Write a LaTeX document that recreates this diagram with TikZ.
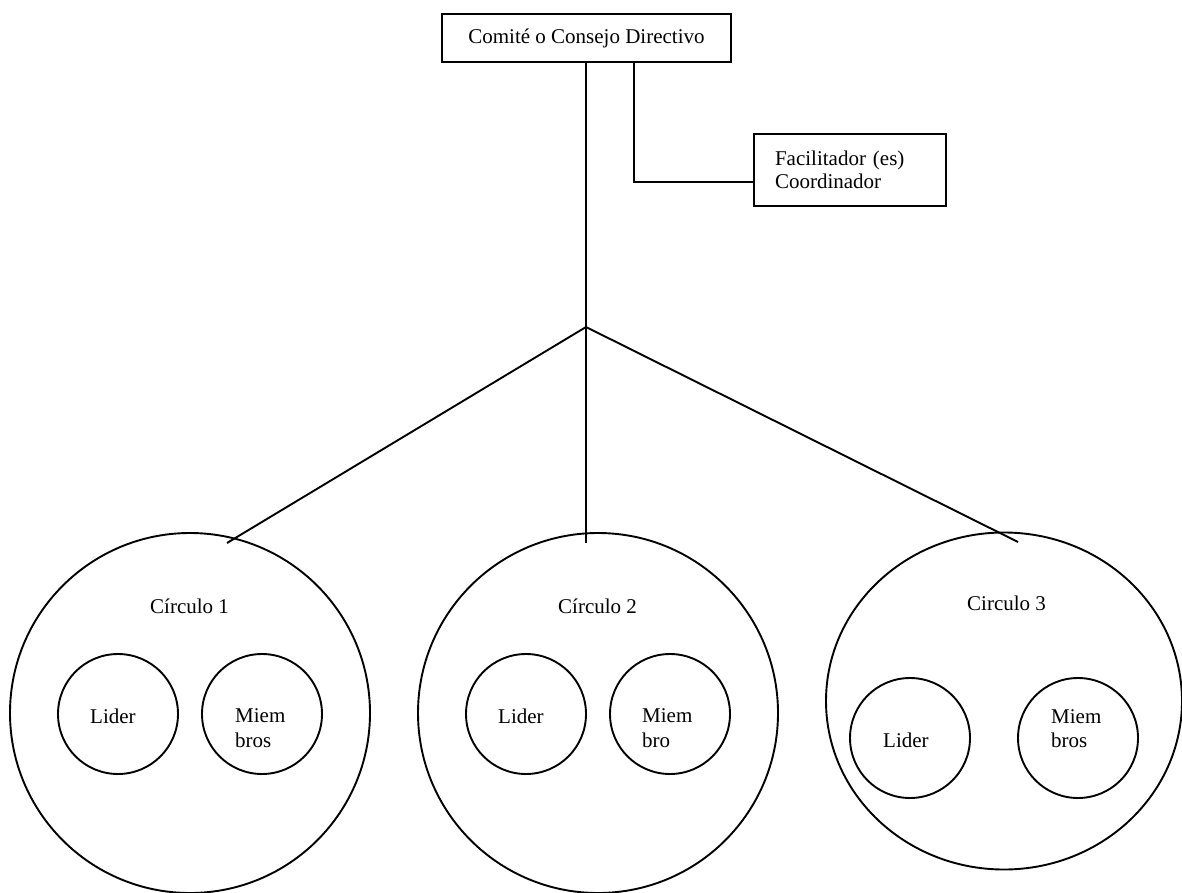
\documentclass[tikz,border=0pt]{standalone}
\usepackage{fontspec}
\setmainfont{Liberation Serif}
\usetikzlibrary{shapes.geometric}
\begin{document}
\begin{tikzpicture}[x=1pt,y=-1pt,
  ln/.style={line width=1.9pt},
  boxnode/.style={draw, line width=1.9pt, inner sep=0pt, font=\fontsize{21}{23}\selectfont},
  ring/.style={draw, circle, line width=1.9pt, inner sep=0pt},
  txt/.style={inner sep=0pt, anchor=base west, font=\fontsize{21}{25}\selectfont}]
\useasboundingbox (0,0) rectangle (1182,893);

% boxes
\node[boxnode, minimum width=289pt, minimum height=48pt] (top) at (586.5,38) {Comit\'e o Consejo Directivo};
\node[boxnode, minimum width=192pt, minimum height=72pt, inner xsep=21pt, text width=150pt, align=left] (fac) at (850,170) {Facilitador (es)\\Coordinador};

% junction and ends
\coordinate (junc) at (586,327);
\coordinate (elbow) at (634,182);
\coordinate (e1) at (227,543);
\coordinate (e2) at (586,543);
\coordinate (e3) at (1018,542);

% big circles
\node[ring, minimum size=360pt] (c1) at (190,713) {};
\node[ring, minimum size=360pt] (c2) at (598,713) {};
\node[draw, ellipse, line width=1.9pt, inner sep=0pt, minimum width=356pt, minimum height=337pt] (c3) at (1004,701) {};

% small circles
\node[ring, minimum size=120pt] (l1) at (118,714) {};
\node[ring, minimum size=120pt] (m1) at (262,714) {};
\node[ring, minimum size=120pt] (l2) at (526,714) {};
\node[ring, minimum size=120pt] (m2) at (670,714) {};
\node[ring, minimum size=120pt] (l3) at (910,738) {};
\node[ring, minimum size=120pt] (m3) at (1078,738) {};

% connectors
\draw[ln] (top.south -| junc) -- (junc) -- (e2);
\draw[ln] (junc) -- (e1);
\draw[ln] (junc) -- (e3);
\draw[ln] (top.south -| elbow) -- (elbow) -- (fac.west |- elbow);

% texts
\node[txt] (t1) at (150,613) {C\'irculo 1};
\node[txt] (t2) at (558,613) {C\'irculo 2};
\node[txt] (t3) at (967,610) {Circulo 3};
\node[txt] (lt1) at (90,723) {Lider};
\node[txt] (lt2) at (498,723) {Lider};
\node[txt] (lt3) at (883,747) {Lider};
\node[txt] (ma1) at (235,722) {Miem};
\node[txt] (mb1) at (235,747) {bros};
\node[txt] (ma2) at (642,722) {Miem};
\node[txt] (mb2) at (642,747) {bro};
\node[txt] (ma3) at (1051,723) {Miem};
\node[txt] (mb3) at (1051,747) {bros};
\end{tikzpicture}
\end{document}
